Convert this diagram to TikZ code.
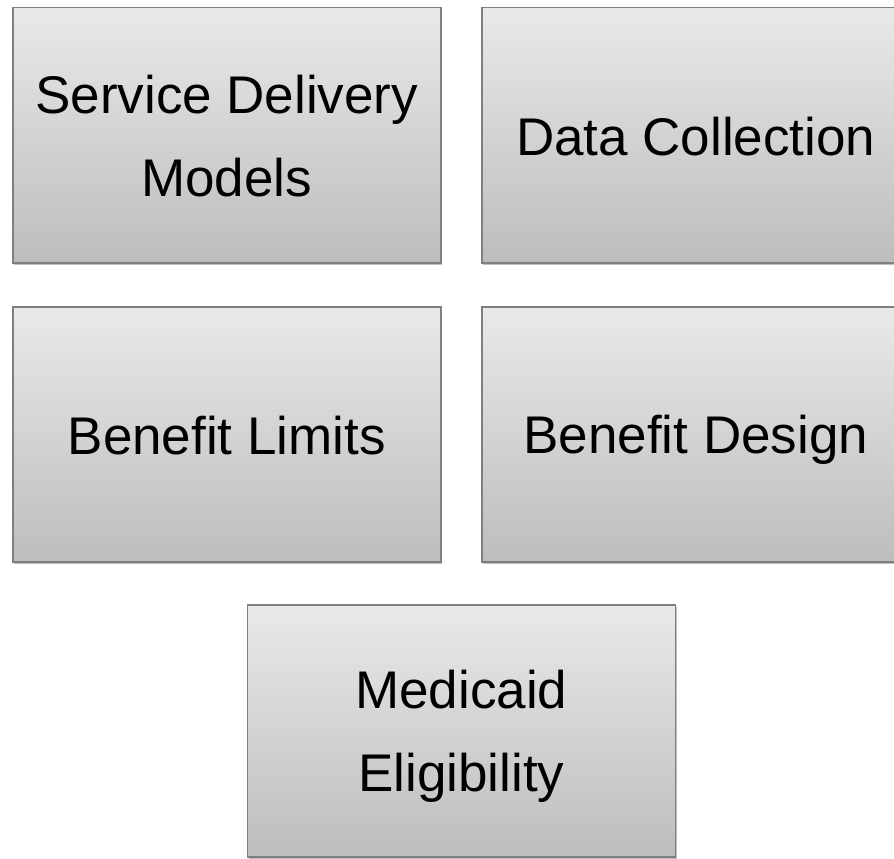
\documentclass[tikz,border=0pt]{standalone}
\usepackage{fontspec}
\setmainfont{Liberation Sans}
\usetikzlibrary{shadows}
\definecolor{boxtop}{HTML}{E9E9E9}
\definecolor{boxbot}{HTML}{BDBDBD}
\definecolor{boxline}{HTML}{7F7F7F}
\newcommand\lnstrut{\vrule width0pt height49pt depth9pt}
\tikzset{
  card/.style={draw=boxline, line width=1.5pt, top color=boxtop, bottom color=boxbot,
    minimum width=428pt, minimum height=255pt, inner sep=0pt, anchor=north west,
    align=center, font=\fontsize{53pt}{83.4pt}\selectfont,
    drop shadow={shadow xshift=1.5pt, shadow yshift=-2pt, opacity=0.25, fill=black}}
}
\begin{document}
\begin{tikzpicture}[x=1pt,y=-1pt]
\useasboundingbox (0,0) rectangle (894,859);
\begin{scope}
\clip (0,0) rectangle (894,859);
\node[card] (sdm) at (12,7) {\lnstrut Service Delivery\\\lnstrut Models};
\node[card] (dc) at (481,7) {\lnstrut Data Collection};
\node[card] (bl) at (12,306) {\lnstrut Benefit Limits};
\node[card] (bd) at (481,306) {\lnstrut Benefit Design};
\node[card, minimum height=252pt] (me) at (246.5,604) {\lnstrut Medicaid\\\lnstrut Eligibility};
\end{scope}
\end{tikzpicture}
\end{document}
